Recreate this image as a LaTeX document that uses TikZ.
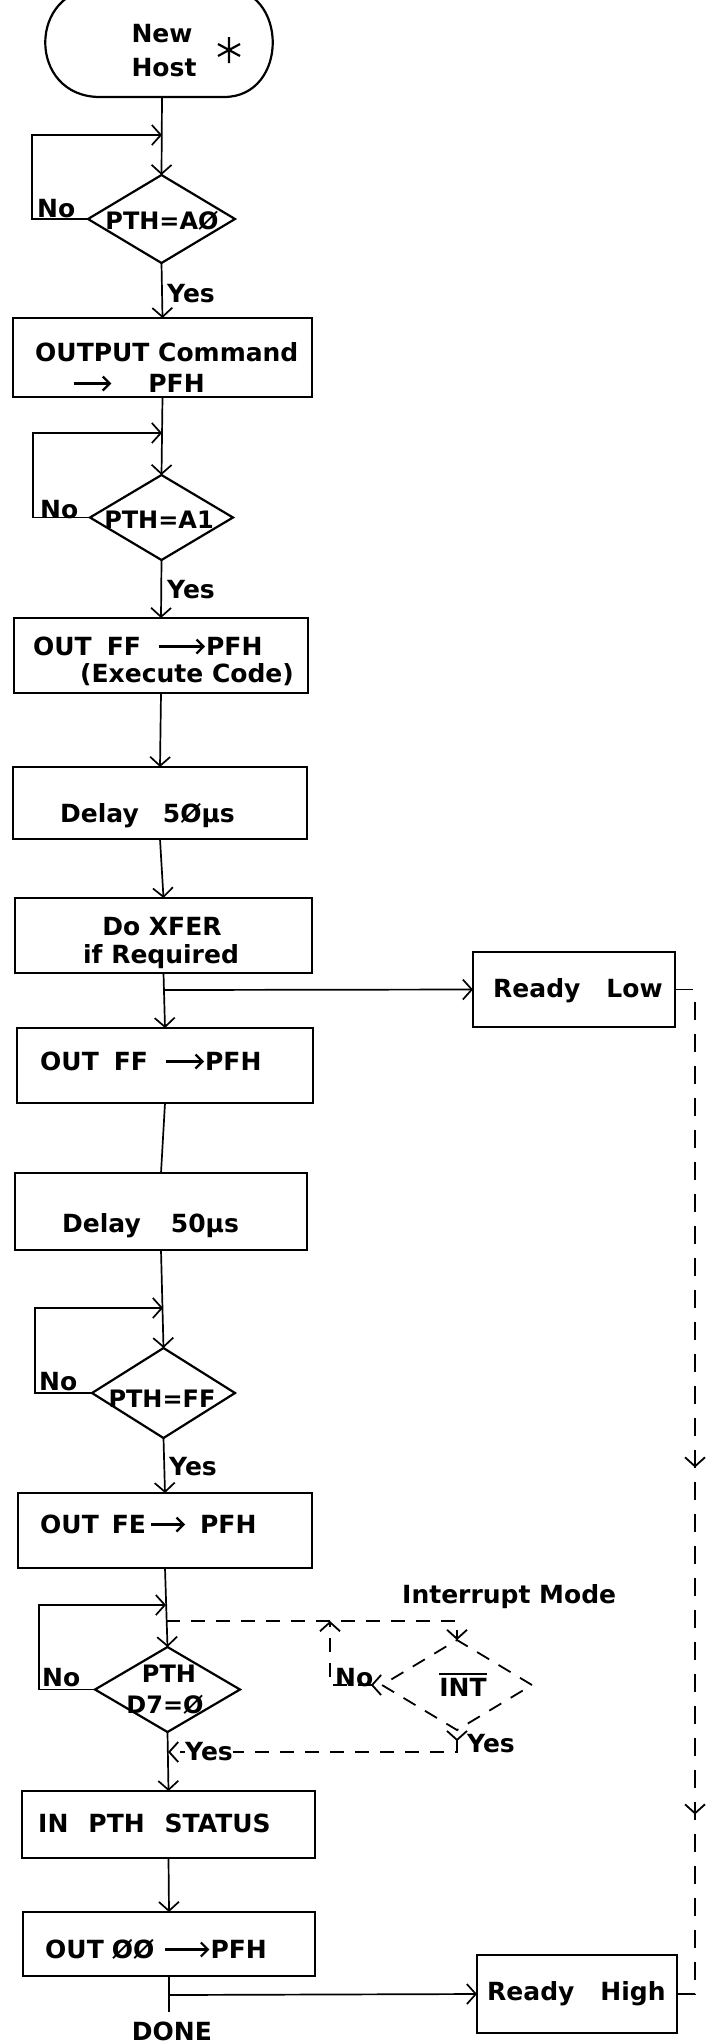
\documentclass[tikz,border=0pt]{standalone}
\usepackage{fontspec}
\setmainfont{DejaVu Sans}
\usetikzlibrary{arrows.meta,shapes.geometric,decorations.markings}
\newcommand\arr[1][40]{\tikz[baseline=0pt,x=1pt,y=1pt]\draw[line width=2.2pt,-{Straight Barb[length=7pt,width=14pt]}] (0,8.5) -- (#1,8.5);}
\newcommand\myovl[1]{\setbox0\hbox{#1}\rlap{\rule[\dimexpr\ht0+3pt\relax]{\wd0}{2pt}}\box0}
\begin{document}
\begin{tikzpicture}[x=1pt,y=-1pt,
  >={Straight Barb[length=9pt,width=20pt]},
  box/.style={draw,line width=2.2pt,inner sep=0pt,outer sep=0pt},
  dia/.style={draw,diamond,line width=2.2pt,inner sep=0pt,outer sep=0pt},
  txt/.style={font=\fontsize{25}{30}\selectfont\bfseries,inner sep=0pt},
  dtxt/.style={font=\fontsize{24}{28}\selectfont\bfseries,inner sep=0pt},
  conn/.style={line width=1.7pt},
  dsh/.style={line width=1.8pt,dash pattern=on 14pt off 11pt},
  ldsh/.style={line width=1.8pt,dash pattern=on 18pt off 14pt}]
\useasboundingbox (0,0) rectangle (707,2043);
\clip (0,0) rectangle (707,2043);

% terminal
\draw[line width=2.2pt] (100,-12) -- (224,-12) .. controls (289,-12) and (289,97) .. (224,97) -- (100,97) .. controls (27,97) and (27,-12) .. (100,-12) -- cycle;
\node[txt,anchor=base] (new) at (162,42) {New};
\node[txt,anchor=base] (host) at (164,76) {Host};
\draw[line width=2.2pt] (229,37) -- (229,63) (218,44) -- (240,56) (218,56) -- (240,44);
\coordinate (tb) at (162,97);

% boxes
\node[box,minimum width=299pt,minimum height=79pt] (b1) at (162.5,357.5) {};
\node[box,minimum width=294pt,minimum height=75pt] (b2) at (161,655.5) {};
\node[box,minimum width=294pt,minimum height=72pt] (b3) at (160,803) {};
\node[box,minimum width=297pt,minimum height=75pt] (b4) at (163.5,935.5) {};
\node[box,minimum width=202pt,minimum height=75pt] (RL) at (574,989.5) {};
\node[box,minimum width=296pt,minimum height=75pt] (b5) at (165,1065.5) {};
\node[box,minimum width=292pt,minimum height=77pt] (b6) at (161,1211.5) {};
\node[box,minimum width=294pt,minimum height=75pt] (b7) at (165,1530.5) {};
\node[box,minimum width=293pt,minimum height=67pt] (b8) at (168.5,1824.5) {};
\node[box,minimum width=292pt,minimum height=64pt] (b9) at (169,1944) {};
\node[box,minimum width=200pt,minimum height=78pt] (RH) at (577,1994) {};

% diamonds
\node[dia,minimum width=147pt,minimum height=88pt] (d1) at (161.5,219) {};
\node[dia,minimum width=143pt,minimum height=85pt] (d2) at (161.5,517.5) {};
\node[dia,minimum width=143pt,minimum height=90pt] (d3) at (163.5,1393) {};
\node[dia,minimum width=145pt,minimum height=85pt] (d4) at (167.5,1689.5) {};
\node[dia,dsh,minimum width=150pt,minimum height=90pt] (INT) at (457,1685) {};

% coordinates
\coordinate (j1) at (162,135);
\coordinate (j2) at (162,433);
\coordinate (j5) at (163,990);
\coordinate (j3) at (163,1308);
\coordinate (j4) at (166,1605);
\coordinate (jd) at (166,1621);
\coordinate (jn) at (330,1621);
\coordinate (jy) at (168,1752);
\coordinate (j9) at (169,1995);
\coordinate (jend) at (169,2012);

% connectors
\draw[conn,->] (tb) -- (d1.north);
\draw[conn,->] (d1.west) -- ++(-56,0) |- (j1);
\draw[conn,->] (d1.south) -- (b1.north);
\draw[conn,->] (b1.south) -- (d2.north);
\draw[conn,->] (d2.west) -- ++(-57,0) |- (j2);
\draw[conn,->] (d2.south) -- (b2.north);
\draw[conn,->] (b2.south) -- (b3.north);
\draw[conn,->] (b3.south) -- (b4.north);
\draw[conn,->] (b4.south) -- (b5.north);
\draw[conn,->] (j5) -- (RL.west);
\draw[conn] (b5.south) -- (b6.north);
\draw[conn,->] (b6.south) -- (d3.north);
\draw[conn,->] (d3.west) -- ++(-57,0) |- (j3);
\draw[conn,->] (d3.south) -- (b7.north);
\draw[conn,->] (b7.south) -- (d4.north);
\draw[conn,->] (d4.west) -- ++(-56,0) |- (j4);
\draw[conn,->] (d4.south) -- (b8.north);
\draw[conn,->] (b8.south) -- (b9.north);
\draw[conn] (b9.south) -- (jend);
\draw[conn,->] (j9) -- (RH.west);

% interrupt mode
\draw[dsh,->] (jd) -| (INT.north);
\draw[dsh,>->] (INT.west) -- ++(-52,0) -- (jn);
\draw[dsh,>->] (INT.south) |- (jy);

% ready line
\draw[ldsh,postaction={decorate},decoration={markings,
  mark=at position 498pt with {\arrow{>}},
  mark=at position 845pt with {\arrow{>}}}]
  (RL.east) -- ++(20,0) |- (RH.east);

% texts
\node[dtxt] (d1t) at (162,221) {PTH=AØ};
\node[dtxt] (d2t) at (159,520) {PTH=A1};
\node[dtxt] (d3t) at (162,1399) {PTH=FF};
\node[dtxt,anchor=base] (d4a) at (169,1682) {PTH};
\node[dtxt,anchor=base] (d4b) at (165,1713) {D7=Ø};
\node[txt,anchor=base] (intt) at (463,1696) {\myovl{INT}};

\node[txt,anchor=base west] (b1a) at (35,361) {OUTPUT Command};
\node[txt,anchor=base west] (b1b) at (73,392) {\arr[37]\hspace{36pt}PFH};
\node[txt,anchor=base west] (b2a) at (33,655) {OUT\hspace{15pt}FF\hspace{17pt}\arr[46]PFH};
\node[txt,anchor=base west] (b2b) at (80,682) {(Execute Code)};
\node[txt,anchor=base west] (b3t) at (60,822) {Delay\hspace{24pt}5Øµs};
\node[txt,anchor=base] (b4a) at (162,935) {Do XFER};
\node[txt,anchor=base] (b4b) at (161,963) {if Required};
\node[txt,anchor=base west] (rlt) at (493,997) {Ready\hspace{26pt}Low};
\node[txt,anchor=base west] (b5t) at (40,1070) {OUT\hspace{15pt}FF\hspace{17pt}\arr[38]PFH};
\node[txt,anchor=base west] (b6t) at (62,1232) {Delay\hspace{30pt}50µs};
\node[txt,anchor=base west] (b7t) at (40,1533) {OUT\hspace{13pt}FE\hspace{4pt}\arr[34]\hspace{14pt}PFH};
\node[txt,anchor=base west] (b8t) at (38,1832) {IN\hspace{20pt}PTH\hspace{20pt}STATUS};
\node[txt,anchor=base west] (b9t) at (45,1958) {OUT\hspace{8pt}ØØ\hspace{10pt}\arr[44]PFH};
\node[txt,anchor=base west] (rht) at (487,2000) {Ready\hspace{26pt}High};
\node[txt,anchor=base] (done) at (172,2040) {DONE};

\node[txt,anchor=base west] (no1) at (37,217) {No};
\node[txt,anchor=base west] (no2) at (40,518) {No};
\node[txt,anchor=base west] (no3) at (39,1390) {No};
\node[txt,anchor=base west] (no4) at (42,1686) {No};
\node[txt,anchor=base west] (noi) at (335,1686) {No};
\node[txt,anchor=base west] (yes1) at (167,302) {Yes};
\node[txt,anchor=base west] (yes2) at (167,598) {Yes};
\node[txt,anchor=base west] (yes3) at (169,1475) {Yes};
\node[txt,anchor=base west,fill=white] (yes4) at (185,1760) {Yes};
\node[txt,anchor=base west] (yesi) at (467,1752) {Yes};
\node[txt,anchor=base west] (intm) at (402,1603) {Interrupt Mode};
\end{tikzpicture}
\end{document}
